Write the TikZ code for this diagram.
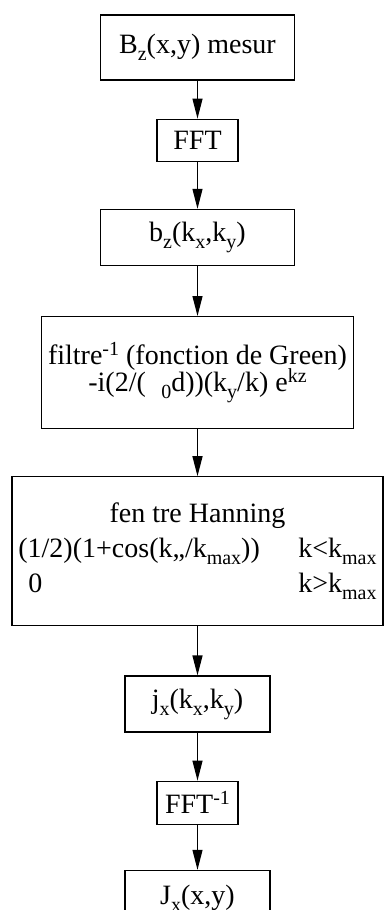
\documentclass[tikz,border=0pt]{standalone}
\usepackage{fontspec}
\setmainfont{Liberation Serif}
\usetikzlibrary{arrows.meta,positioning}
\newcommand{\dn}[1]{\raisebox{-3.5pt}{\fontsize{10}{10}\selectfont #1}}
\newcommand{\up}[1]{\raisebox{4.5pt}{\fontsize{10}{10}\selectfont #1}}

\begin{document}
\begin{tikzpicture}[every node/.style={font=\fontsize{14}{17.5}\selectfont}, node distance=24pt,
		l/.style={draw, line width=0.6pt, inner sep=0pt, minimum width=97pt, minimum height=28pt},
		a/.style={line width=0.6pt, -{Triangle[length=10pt, width=5pt]}}]
	\useasboundingbox (0,0) rectangle (192pt,-455pt);
	\node[l, minimum height=32.5pt] (bz) at (98.75pt,-23.75pt) {B\dn{z}(x,y) mesur};
	\node[l, below=19pt of bz, minimum width=40.5pt, minimum height=21pt] (fft) {FFT};
	\node[l, below=23.5pt of fft] (bk) {b\dn{z}(k\dn{x},k\dn{y})};
	\node[l, below=25pt of bk, minimum width=156pt, minimum height=56pt, align=center,
		font={\fontsize{14}{13.8}\selectfont\lineskiplimit=-20pt}] (filt)
		{filtre\up{-1} (fonction de Green)\\ -i(2/(\hspace{0.55em}\dn{0}d))(k\dn{y}/k) e\up{kz}};
	\node[l, below=23.5pt of filt, minimum width=185.5pt, minimum height=74.5pt, align=center,
		font={\fontsize{14}{17.5}\selectfont\lineskiplimit=-20pt}] (han)
		{fen tre Hanning\\
		\makebox[140pt][l]{(1/2)(1+cos(k,,/k\dn{max}))}k<k\dn{max}\hspace{-3pt}\\
		\makebox[140pt][l]{\hspace{5pt}0}k>k\dn{max}\hspace{-3pt}};
	\node[l, below=24.5pt of han, minimum width=72.5pt] (jk) {j\dn{x}(k\dn{x},k\dn{y})};
	\node[l, below=24pt of jk, minimum width=40.5pt, minimum height=21.5pt] (ifft) {FFT\up{-1}};
	\node[l, below=22.5pt of ifft, minimum width=72.5pt, minimum height=28pt] (jx) {J\dn{x}(x,y)};
	\draw[a] (bz) -- (fft);
	\draw[a] (fft) -- (bk);
	\draw[a] (bk) -- (filt);
	\draw[a] (filt) -- (han);
	\draw[a] (han) -- (jk);
	\draw[a] (jk) -- (ifft);
	\draw[a] (ifft) -- (jx);
\end{tikzpicture}
\end{document}
